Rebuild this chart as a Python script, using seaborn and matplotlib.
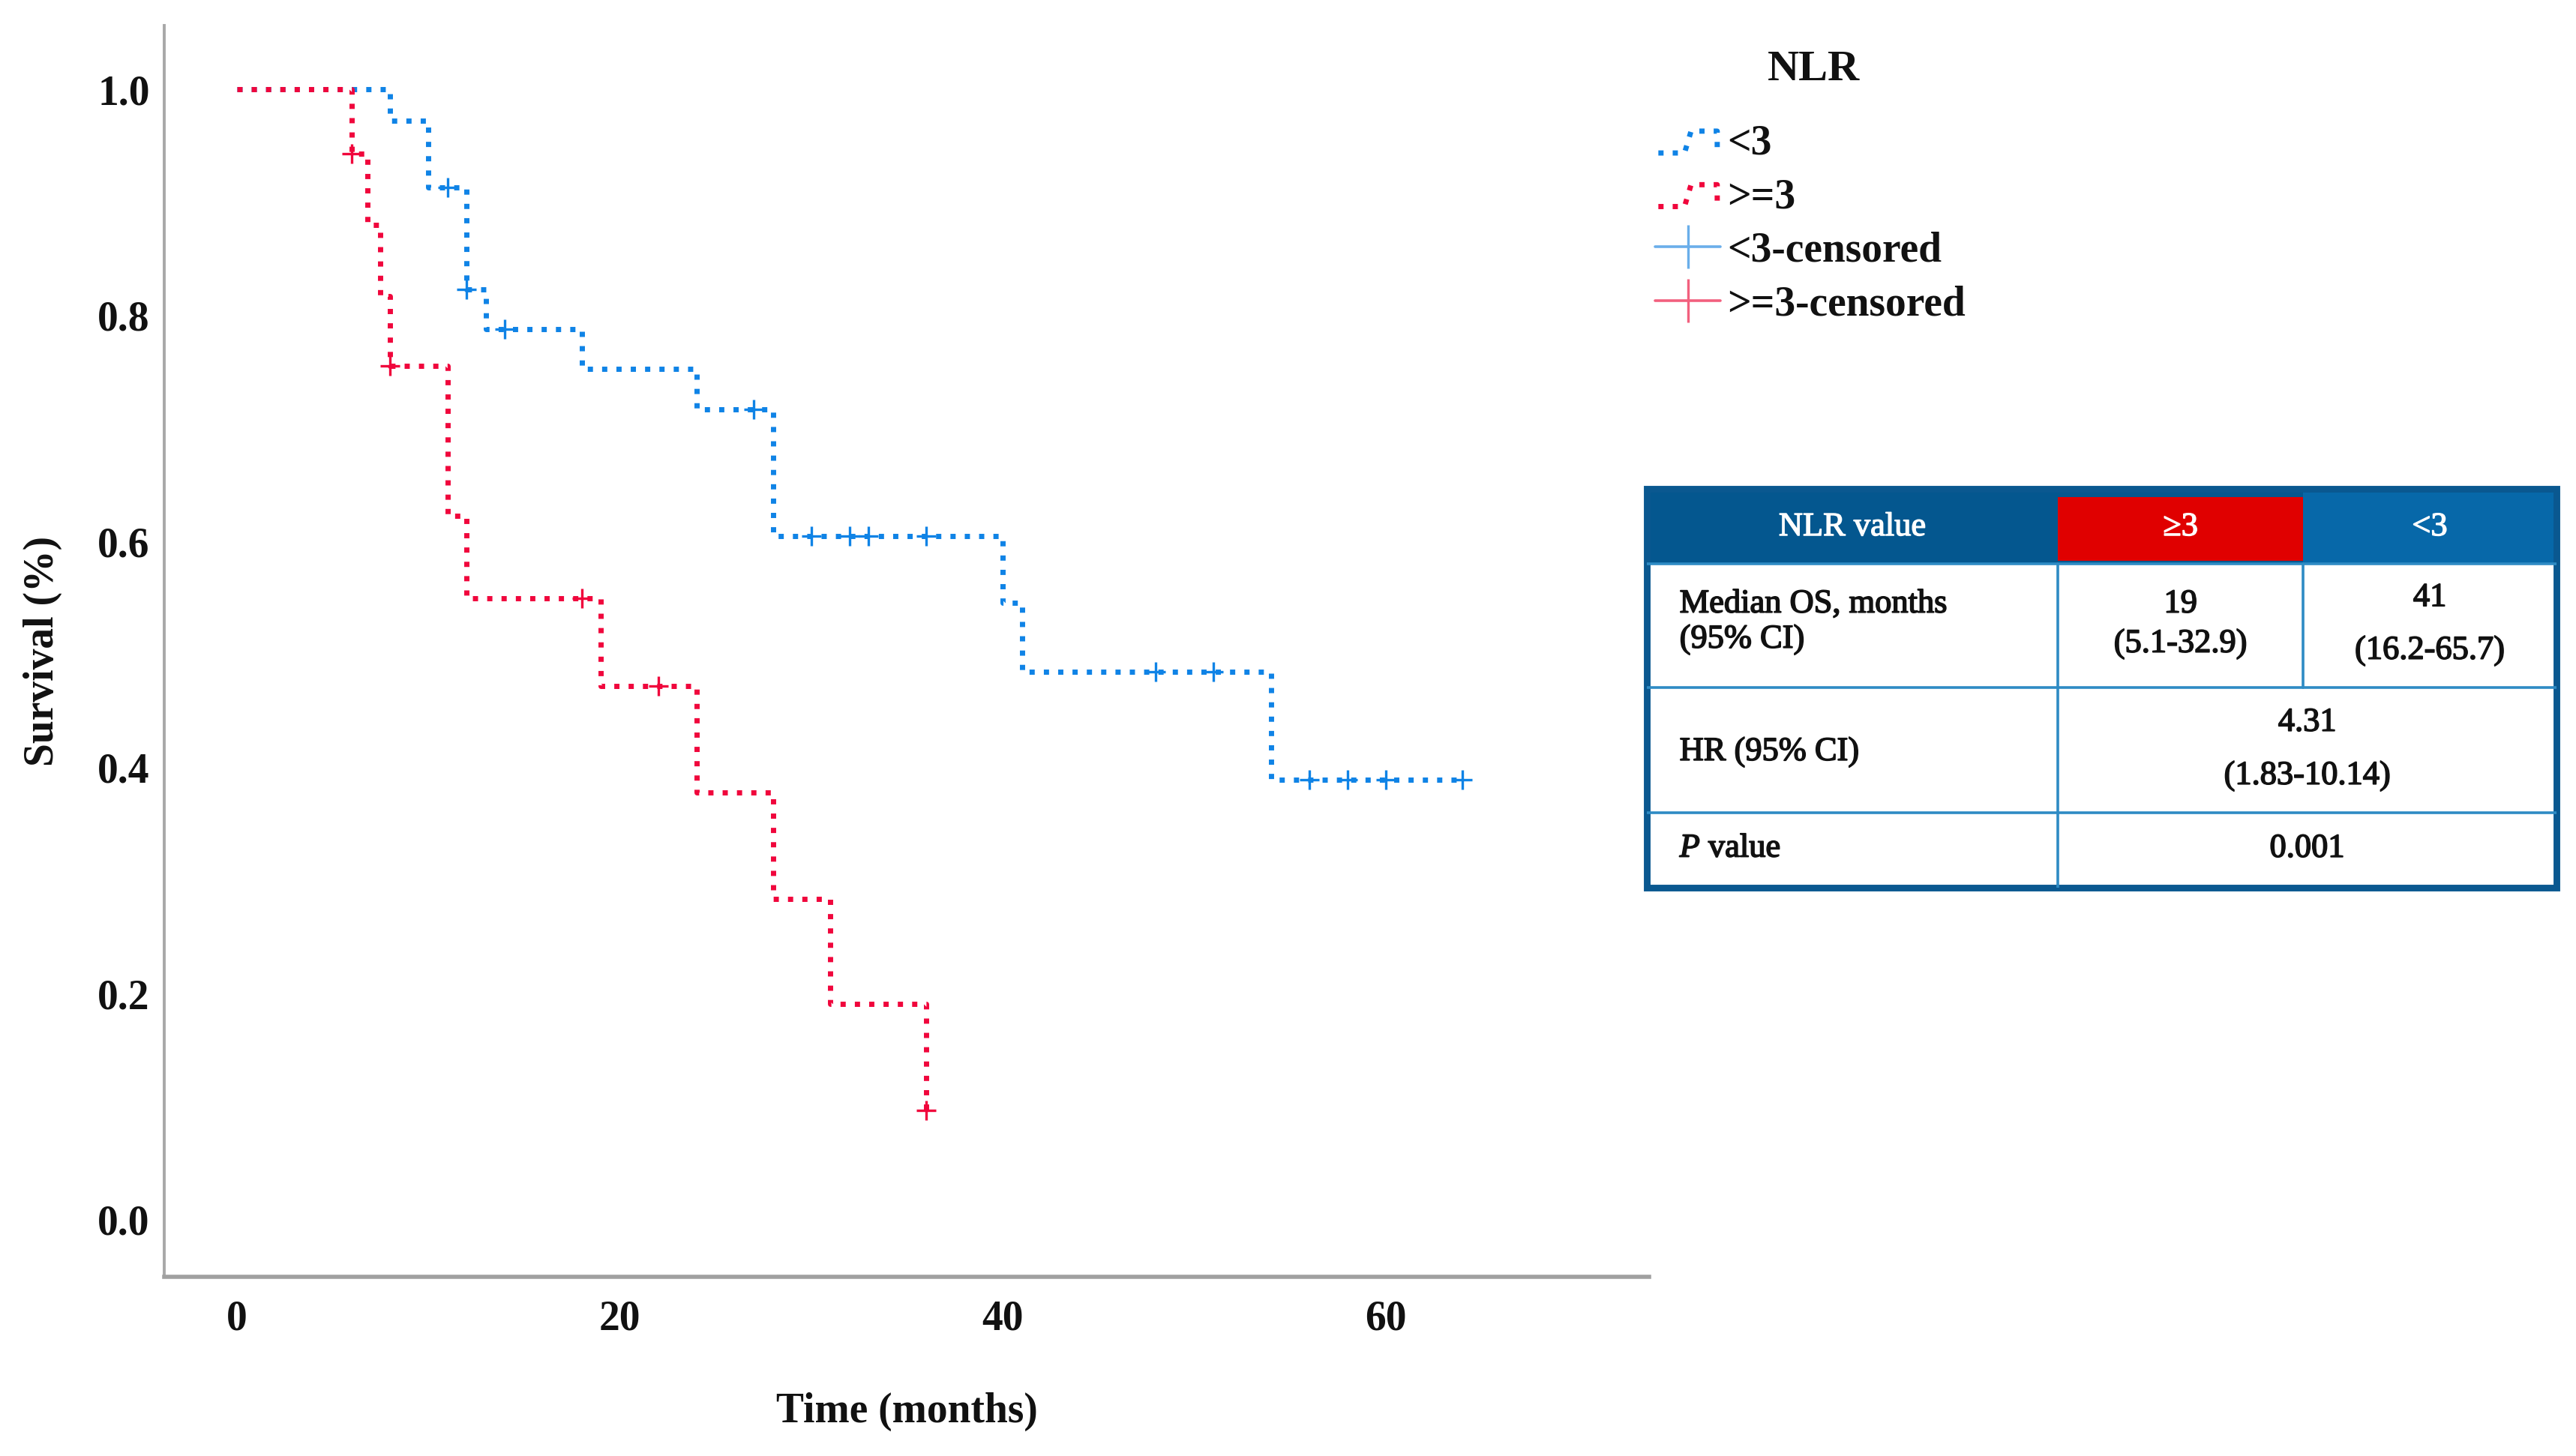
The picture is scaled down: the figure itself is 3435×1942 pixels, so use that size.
import numpy as np
import pandas as pd
import matplotlib
matplotlib.use("Agg")
import matplotlib.pyplot as plt
import matplotlib.patheffects as pe
import seaborn as sns
from matplotlib.lines import Line2D
from matplotlib.patches import Rectangle
from matplotlib.legend_handler import HandlerBase
from matplotlib.font_manager import FontProperties

# ---------------- data ----------------
# NLR < 3 group
low_event_times = [8, 10, 12, 13, 18, 24, 28, 40, 41, 54]
low_event_surv = [0.972, 0.913, 0.823, 0.788, 0.7525, 0.717, 0.605, 0.546, 0.485, 0.389]
low_censor_times = [11, 12, 14, 27, 30, 32, 33, 36, 48, 51, 56, 58, 60, 64]

# NLR >= 3 group
high_event_times = [6, 6.8, 7.5, 8, 11, 12, 19, 24, 28, 31, 36]
high_event_surv = [0.943, 0.880, 0.817, 0.755, 0.623, 0.550, 0.472, 0.378, 0.284, 0.191, 0.097]
high_censor_times = [6, 8, 18, 22, 36]

group_labels = ["<3", ">=3"]
censor_labels = ["<3-censored", ">=3-censored"]
legend_title = "NLR"
x_label = "Time (months)"
y_label = "Survival (%)"
x_ticks = [0, 20, 40, 60]
y_ticks = [0.0, 0.2, 0.4, 0.6, 0.8, 1.0]

table_header = ["NLR value", "\u22653", "<3"]
table_row_labels = [["Median OS, months", "(95% CI)"], ["HR (95% CI)"], ["$\\mathit{P}$ value"]]
median_high = ["19", "(5.1-32.9)"]
median_low = ["41", "(16.2-65.7)"]
hr_text = ["4.31", "(1.83-10.14)"]
p_text = "0.001"

# ---------------- style ----------------
BLUE = "#0F83E6"
RED = "#F0063C"
BLUE_C = "#6AAEEA"
RED_C = "#F2607E"
SERIF = ["Liberation Serif", "DejaVu Serif"]

sns.set_theme(style="white")
plt.rcParams["font.family"] = SERIF
plt.rcParams["mathtext.fontset"] = "custom"
plt.rcParams["mathtext.it"] = "Liberation Serif:italic"
plt.rcParams["mathtext.rm"] = "Liberation Serif"

W, H = 3435, 1942
fig = plt.figure(figsize=(W / 200, H / 200), dpi=200)
fig.patch.set_facecolor("white")

ax = fig.add_axes([219 / W, 1 - 1703 / H, (2199 - 219) / W, (1703 - 34) / H])
ax.set_facecolor("white")


def km_frame(ev_t, ev_s, cens_t):
    t = [0.0] + list(ev_t)
    s = [1.0] + list(ev_s)
    end = max(max(cens_t), max(ev_t))
    if end > t[-1]:
        t.append(end)
        s.append(s[-1])
    return pd.DataFrame({"time": t, "surv": s})


def censor_frame(ev_t, ev_s, cens_t):
    et = np.array(ev_t, dtype=float)
    es = np.concatenate([[1.0], np.array(ev_s, dtype=float)])
    idx = np.searchsorted(et, np.array(cens_t, dtype=float), side="right")
    return pd.DataFrame({"time": cens_t, "surv": es[idx]})


DOT = (0, (1.0, 1.75))
LW = 2.5

low_df = km_frame(low_event_times, low_event_surv, low_censor_times)
high_df = km_frame(high_event_times, high_event_surv, high_censor_times)
low_c = censor_frame(low_event_times, low_event_surv, low_censor_times)
high_c = censor_frame(high_event_times, high_event_surv, high_censor_times)

sns.lineplot(data=low_df, x="time", y="surv", ax=ax, color=BLUE, lw=LW,
             linestyle=DOT, drawstyle="steps-post", estimator=None, sort=False)
sns.lineplot(data=high_df, x="time", y="surv", ax=ax, color=RED, lw=LW,
             linestyle=DOT, drawstyle="steps-post", estimator=None, sort=False)
sns.scatterplot(data=low_c, x="time", y="surv", ax=ax, marker="+", s=90,
                color=BLUE, linewidth=1.2, zorder=4)
sns.scatterplot(data=high_c, x="time", y="surv", ax=ax, marker="+", s=90,
                color=RED, linewidth=1.2, zorder=4)

ax.set_xlim(-3.8, 73.76)
ax.set_ylim(-0.0504, 1.0564)
ax.set_xticks(x_ticks)
ax.set_yticks(y_ticks)
ax.set_xticklabels([str(v) for v in x_ticks])
ax.set_yticklabels([f"{v:.1f}" for v in y_ticks])
tick_font = FontProperties(family=SERIF, weight="bold", size=20)
for lab in ax.get_xticklabels() + ax.get_yticklabels():
    lab.set_fontproperties(tick_font)
    lab.set_color("#111111")
ax.tick_params(axis="both", length=0)
ax.tick_params(axis="x", pad=11)
ax.tick_params(axis="y", pad=7)

for side in ["top", "right"]:
    ax.spines[side].set_visible(False)
ax.spines["left"].set_color("#A8A8A8")
ax.spines["left"].set_linewidth(1.4)
ax.spines["bottom"].set_color("#A0A0A0")
ax.spines["bottom"].set_linewidth(2.0)

ax.set_xlabel(x_label, fontproperties=tick_font, color="#111111", va="center")
ax.set_ylabel(y_label, fontproperties=tick_font, color="#111111", va="center")
ax.xaxis.set_label_coords(0.5, (1703 - 1883) / (1703 - 34))
ax.yaxis.set_label_coords((57 - 219) / (2199 - 219), 0.5)


# ---------------- legend ----------------
class StepHandler(HandlerBase):
    def create_artists(self, legend, orig_handle, xdescent, ydescent,
                       width, height, fontsize, trans):
        xs = np.array([0.05, 0.45, 0.55, 0.95, 0.95]) * width - xdescent
        ys = np.array([0.05, 0.05, 0.80, 0.80, 0.25]) * height - ydescent
        ln = Line2D(xs, ys, color=orig_handle.get_color(), lw=LW, linestyle=DOT)
        ln.set_transform(trans)
        return [ln]


h_low = Line2D([], [], color=BLUE)
h_high = Line2D([], [], color=RED)
h_low_c = Line2D([], [], color=BLUE_C, lw=1.3, marker="|", markersize=21,
                 markeredgewidth=1.2)
h_high_c = Line2D([], [], color=RED_C, lw=1.3, marker="|", markersize=21,
                  markeredgewidth=1.2)

leg = ax.legend([h_low, h_high, h_low_c, h_high_c],
                group_labels + censor_labels,
                handler_map={h_low: StepHandler(), h_high: StepHandler()},
                loc="upper left", bbox_to_anchor=(2207 / W, 1 - 166 / H),
                bbox_transform=fig.transFigure, frameon=False, borderpad=0,
                borderaxespad=0, handletextpad=0.16, handlelength=1.57,
                labelspacing=0.35, numpoints=1,
                prop=FontProperties(family=SERIF, weight="bold", size=20))
for t in leg.get_texts():
    t.set_color("#111111")
fig.text(2418 / W, 1 - 93 / H, legend_title, ha="center", va="center",
         fontproperties=FontProperties(family=SERIF, weight="bold", size=21),
         color="#111111")

# ---------------- table ----------------
tx0, tx1, ty0, ty1 = 2196, 3409, 652, 1184
tax = fig.add_axes([tx0 / W, 1 - ty1 / H, (tx1 - tx0) / W, (ty1 - ty0) / H])
tax.set_xlim(0, 1)
tax.set_ylim(1, 0)
tax.axis("off")

col_edges = [0.0, 0.452, 0.7214, 1.0]
row_edges = [0.0, 0.188, 0.498, 0.812, 1.0]
HDR = "#04578F"
HDR2 = "#0768A9"
REDCELL = "#E00000"
GRID = "#2E8BC4"
BORDER = "#0A5890"

tax.add_patch(Rectangle((0, 0), 1, row_edges[1], color=HDR, lw=0))
tax.add_patch(Rectangle((col_edges[2], 0), 1 - col_edges[2], row_edges[1],
                        color=HDR2, lw=0))
tax.add_patch(Rectangle((col_edges[1], 0.02), col_edges[2] - col_edges[1],
                        0.18 - 0.02, color=REDCELL, lw=0))
for r in row_edges[1:4]:
    tax.plot([0, 1], [r, r], color=GRID, lw=1.3)
tax.plot([col_edges[1], col_edges[1]], [row_edges[1], 1], color=GRID, lw=1.3)
tax.plot([col_edges[2], col_edges[2]], [row_edges[1], row_edges[2]], color=GRID, lw=1.3)
tax.add_patch(Rectangle((0, 0), 1, 1, fill=False, ec=BORDER, lw=3.2,
                        clip_on=False))

tf = FontProperties(family=SERIF, size=16)
dark_fx = [pe.withStroke(linewidth=0.6, foreground="#111111")]
light_fx = [pe.withStroke(linewidth=0.5, foreground="white")]
cx = [(col_edges[i] + col_edges[i + 1]) / 2 for i in range(3)]
cx23 = (col_edges[1] + col_edges[3]) / 2
lx = 0.036


def cell(x, y, s, ha="center", color="#111111", fx=dark_fx):
    tax.text(x, y, s, ha=ha, va="center", color=color, fontproperties=tf,
             path_effects=fx)


for i, h in enumerate(table_header):
    cell(cx[i], 0.096, h, color="white", fx=light_fx)
cell(lx, 0.289, table_row_labels[0][0], ha="left")
cell(lx, 0.378, table_row_labels[0][1], ha="left")
cell(cx[1], 0.289, median_high[0])
cell(cx[1], 0.389, median_high[1])
cell(cx[2], 0.273, median_low[0])
cell(cx[2], 0.406, median_low[1])
cell(lx, 0.660, table_row_labels[1][0], ha="left")
cell(cx23, 0.586, hr_text[0])
cell(cx23, 0.720, hr_text[1])
cell(lx, 0.902, table_row_labels[2][0], ha="left")
cell(cx23, 0.902, p_text)

fig.savefig("out.png", dpi=200, facecolor="white")
